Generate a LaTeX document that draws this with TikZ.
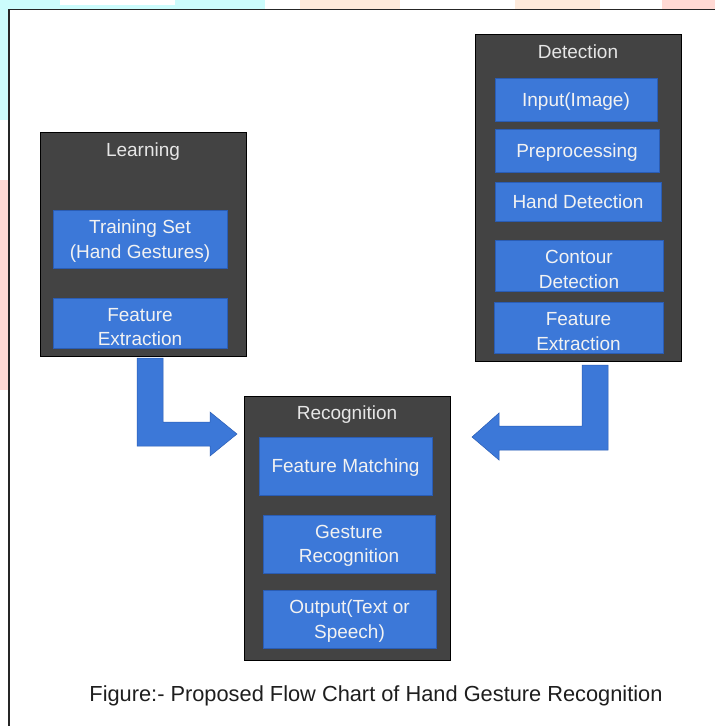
\documentclass[tikz,border=0pt]{standalone}
\usepackage{fontspec}
\setmainfont{Liberation Sans}
\definecolor{boxblue}{HTML}{3C78D8}
\definecolor{boxblueedge}{HTML}{2A5DB5}
\definecolor{panel}{HTML}{434343}
\definecolor{paneltext}{HTML}{E6E6E6}
\definecolor{bluetext}{HTML}{F2F2F2}
\definecolor{bgcyan}{HTML}{CCFCFC}
\definecolor{bgorange}{HTML}{FEEADB}
\definecolor{bgpink}{HTML}{FFD9D4}
\definecolor{captext}{HTML}{1E1E1E}
\tikzset{
  panelbox/.style={draw=black, line width=0.8pt, fill=panel, minimum width=206pt, inner sep=0pt},
  paneltitle/.style={text=paneltext, font=\fontsize{19}{23}\selectfont, inner sep=0pt, text depth=0pt},
  stepbox/.style={draw=boxblueedge, line width=0.5pt, fill=boxblue, text=bluetext, align=center,
    font=\fontsize{19}{24.5}\selectfont, inner sep=0pt, text depth=0pt},
  lowtext/.style={text height=45pt},
  blockarrow/.style={draw=boxblueedge, line width=0.5pt, fill=boxblue},
}
\begin{document}
\begin{tikzpicture}[x=1pt,y=-1pt]
\useasboundingbox (0,0) rectangle (715,726);
\fill[white] (0,0) rectangle (715,726);
% pastel background strips
\fill[bgcyan] (0,0) rectangle (265,9);
\fill[white] (60,0) rectangle (175,5);
\fill[bgorange] (300,0) rectangle (400,9);
\fill[bgorange] (515,0) rectangle (600,9);
\fill[bgpink] (662,0) rectangle (715,9);
\fill[bgcyan] (0,0) rectangle (9,120);
\fill[bgpink] (0,180) rectangle (9,390);
% frame
\draw[line width=1.2pt, black!85] (9,726) -- (9,9.5) -- (715,9.5);

% Learning panel
\node[panelbox, minimum height=224pt] (learn) at (143,244) {};
\node[paneltitle] (learnt) at (143,150) {Learning};
\node[stepbox, minimum width=174pt, minimum height=58pt] (train) at (140,239) {Training Set\\(Hand Gestures)};
\node[stepbox, lowtext, minimum width=174pt, minimum height=50pt] (featL) at (140,323) {Feature\\Extraction};

% Detection panel
\node[panelbox, minimum height=327pt] (detect) at (578,197.5) {};
\node[paneltitle] (detectt) at (578,52) {Detection};
\node[stepbox, minimum width=162pt, minimum height=43pt] (input) at (576,99.5) {Input(Image)};
\node[stepbox, minimum width=164pt, minimum height=43pt] (prep) at (577,150.5) {Preprocessing};
\node[stepbox, minimum width=166pt, minimum height=39pt] (hand) at (578,201.5) {Hand Detection};
\node[stepbox, lowtext, minimum width=168pt, minimum height=51pt] (contour) at (579,265.5) {Contour\\Detection};
\node[stepbox, lowtext, minimum width=169pt, minimum height=51pt] (featD) at (578.5,327.5) {Feature\\Extraction};

% Recognition panel
\node[panelbox, minimum height=264pt] (recog) at (347,528) {};
\node[paneltitle] (recogt) at (347,413) {Recognition};
\node[stepbox, minimum width=173pt, minimum height=58pt] (match) at (345.5,466) {Feature Matching};
\node[stepbox, minimum width=172pt, minimum height=58pt] (gest) at (349,544) {Gesture\\Recognition};
\node[stepbox, minimum width=173pt, minimum height=58pt] (outp) at (349.5,619) {Output(Text or\\Speech)};

% block arrows
\draw[blockarrow] (137,358) -- (163,358) -- (163,422) -- (210,422) -- (210,412)
  -- (237,434) -- (210,456) -- (210,446) -- (137,446) -- cycle;
\draw[blockarrow] (608,365) -- (582,365) -- (582,426) -- (499,426) -- (499,413)
  -- (472,437) -- (499,460) -- (499,450) -- (608,450) -- cycle;

% caption
\node[text=captext, font=\fontsize{21.8}{26}\selectfont, inner sep=0pt, text depth=0pt] (cap) at (376,694)
  {Figure:- Proposed Flow Chart of Hand Gesture Recognition};
\end{tikzpicture}
\end{document}
